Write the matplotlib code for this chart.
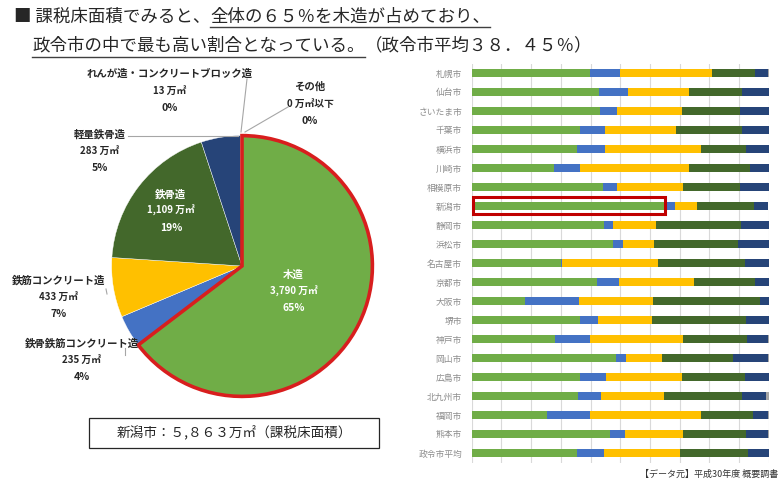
import numpy as np
import matplotlib
matplotlib.use("Agg")
import matplotlib.pyplot as plt
from matplotlib.patches import Rectangle
from matplotlib.lines import Line2D

plt.rcParams['font.family'] = ['Noto Sans CJK JP', 'DejaVu Sans']

W, H = 780, 484

# ---------------- data ----------------
pie_labels = ["木造", "鉄骨鉄筋コンクリート造", "鉄筋コンクリート造", "鉄骨造", "軽量鉄骨造",
              "れんが造・コンクリートブロック造", "その他"]
pie_values = [3790, 235, 433, 1109, 283, 13, 0]
pie_value_text = ["3,790 万㎡", "235 万㎡", "433 万㎡", "1,109 万㎡", "283 万㎡", "13 万㎡", "0 万㎡以下"]
pie_pct_text = ["65%", "4%", "7%", "19%", "5%", "0%", "0%"]

cities = ["札幌市", "仙台市", "さいたま市", "千葉市", "横浜市", "川崎市", "相模原市", "新潟市",
          "静岡市", "浜松市", "名古屋市", "京都市", "大阪市", "堺市", "神戸市", "岡山市",
          "広島市", "北九州市", "福岡市", "熊本市", "政令市平均"]
wood  = [39.8, 42.9, 43.2, 36.4, 35.6, 27.7, 44.3, 64.6, 44.6, 47.6, 30.1, 42.2, 18.1, 36.6, 28.2, 48.6, 36.3, 35.9, 25.4, 46.6, 35.6]
src   = [10.1, 9.7, 5.7, 8.5, 9.3, 8.9, 4.6, 4.0, 3.1, 3.4, 0.2, 7.4, 18.0, 5.8, 11.5, 3.5, 8.9, 7.5, 14.4, 5.1, 9.1]
rc    = [31.1, 20.5, 21.9, 23.8, 32.3, 36.4, 22.4, 7.4, 14.3, 10.3, 32.3, 25.4, 25.1, 18.4, 31.6, 12.1, 25.6, 21.5, 37.3, 19.5, 25.4]
steel = [14.4, 17.8, 19.7, 22.4, 15.2, 20.8, 19.0, 18.9, 28.7, 28.2, 29.4, 20.4, 35.9, 31.6, 21.3, 23.9, 21.1, 26.0, 17.5, 21.3, 22.9]
light = [4.2, 9.1, 9.5, 8.9, 7.6, 6.2, 9.7, 4.8, 9.3, 10.5, 8.1, 4.6, 2.9, 7.6, 7.3, 11.5, 8.1, 8.3, 5.3, 7.4, 7.0]
other = [0.4, 0.0, 0.0, 0.0, 0.0, 0.0, 0.0, 0.2, 0.0, 0.0, 0.1, 0.0, 0.0, 0.0, 0.1, 0.4, 0.0, 0.8, 0.1, 0.1, 0.0]
highlight_city = "新潟市"

colors = ["#70AD47", "#4472C4", "#FFC000", "#43682B", "#264478", "#A5A5A5", "#7F7F7F"]


def fx(x):
    return x / W


def fy(y):
    return 1 - y / H


fig = plt.figure(figsize=(W / 100, H / 100), dpi=100)
fig.patch.set_facecolor("white")

# ---------------- title ----------------
renderer = fig.canvas.get_renderer()
tfs = 12.6
tcol = "#262626"
t1a = fig.text(fx(14), fy(17), "■ 課税床面積でみると、", fontsize=tfs, va="center", ha="left", color=tcol)
bb = t1a.get_window_extent(renderer)
t1b = fig.text(bb.x1 / W, fy(17), "全体の６５％を木造が占めており、",
               fontsize=tfs, va="center", ha="left", color=tcol)
bb1b = t1b.get_window_extent(renderer)
fig.add_artist(Line2D([bb1b.x0 / W, bb1b.x1 / W], [fy(27), fy(27)], color="#404040", lw=1.0))

t2a = fig.text(fx(32), fy(45), "政令市の中で最も高い割合となっている。", fontsize=tfs, va="center", ha="left", color=tcol)
bb2a = t2a.get_window_extent(renderer)
fig.add_artist(Line2D([bb2a.x0 / W, bb2a.x1 / W], [fy(57), fy(57)], color="#404040", lw=1.0))
fig.text(bb2a.x1 / W, fy(45), "（政令市平均３８．４５％）", fontsize=tfs, va="center", ha="left", color=tcol)

# ---------------- pie ----------------
cx, cy, R = 242, 266, 133
axp = fig.add_axes([fx(cx - R), fy(cy + R), 2 * R / W, 2 * R / H])
wedges, _ = axp.pie(pie_values, colors=colors, startangle=90, counterclock=False, radius=1,
                    wedgeprops=dict(edgecolor="white", linewidth=0.3))
axp.set_xlim(-1.02, 1.02)
axp.set_ylim(-1.02, 1.02)
axp.set_aspect("equal")
axp.axis("off")
wedges[0].set_edgecolor("#D81E1E")
wedges[0].set_linewidth(2.6)
wedges[0].set_zorder(5)

lfs = 7.5
step = 12.2  # points between lines


def label3(ax_xy, i, color, trans=None):
    x, y = ax_xy
    for k, txt in enumerate([pie_labels[i], pie_value_text[i], pie_pct_text[i]]):
        axp.annotate(txt, xy=(x, y), xycoords=trans if trans is not None else "data",
                     xytext=(0, step * (1 - k)), textcoords="offset points",
                     fontsize=lfs if k != 1 else 7.0, ha="center", va="center", color=color,
                     fontweight="bold", annotation_clip=False, zorder=10)


# inside labels at mid-angle of wedge
for i, r in [(0, 0.44), (3, 0.69)]:
    w = wedges[i]
    mid = np.deg2rad((w.theta1 + w.theta2) / 2)
    label3((r * np.cos(mid), r * np.sin(mid)), i, "white")

# outside labels (positions in figure pixels)
outside = {5: (170, 91), 6: (310, 104), 4: (100, 151), 2: (59, 297), 1: (82, 360)}
for i, (px_, py_) in outside.items():
    label3((fx(px_), fy(py_)), i, "#262626", trans=fig.transFigure)

lc = "#A6A6A6"
for (x0, y0, x1, y1) in [(128, 136, 238, 136), (247, 79, 241, 132), (288, 107, 245, 132),
                         (106, 289, 107, 294), (125, 348, 125, 355)]:
    fig.add_artist(Line2D([fx(x0), fx(x1)], [fy(y0), fy(y1)], color=lc, lw=0.8))

# total box
fig.add_artist(Rectangle((fx(89), fy(448)), (379 - 89) / W, 30 / H, transform=fig.transFigure,
                         fill=False, edgecolor="#262626", lw=0.9))
fig.text(fx(234), fy(433), "新潟市：５,８６３万㎡（課税床面積）", ha="center", va="center",
         fontsize=9.8, color="#262626")

# ---------------- stacked bars ----------------
axb = fig.add_axes([fx(471.7), fy(462.5), 297 / W, 399 / H])
y = np.arange(len(cities))
left = np.zeros(len(cities))
for vals, col in zip([wood, src, rc, steel, light, other], colors):
    vals = np.array(vals)
    axb.barh(y, vals, left=left, height=0.39, color=col, zorder=2)
    left += vals
axb.set_xlim(0, 100)
axb.set_ylim(len(cities) - 0.5, -0.5)
axb.set_xticks(np.arange(0, 101, 10))
axb.set_xticklabels([])
axb.grid(axis="x", color="#D9D9D9", lw=0.8, zorder=0)
axb.set_axisbelow(True)
axb.set_yticks(y)
axb.set_yticklabels(cities, fontsize=6.3, color="#8C8C8C")
axb.tick_params(axis="both", length=0, pad=7)
for s in axb.spines.values():
    s.set_visible(False)

hi = cities.index(highlight_city)
axb.add_patch(Rectangle((0.45, hi - 0.47), wood[hi] + 0.1, 0.9, fill=False,
                        edgecolor="#C00000", lw=2.2, zorder=5, clip_on=False))

fig.text(fx(778), fy(474), "【データ元】平成30年度 概要調書", ha="right", va="center",
         fontsize=6.5, color="#333333")

fig.savefig("out.png", dpi=100, facecolor="white")
